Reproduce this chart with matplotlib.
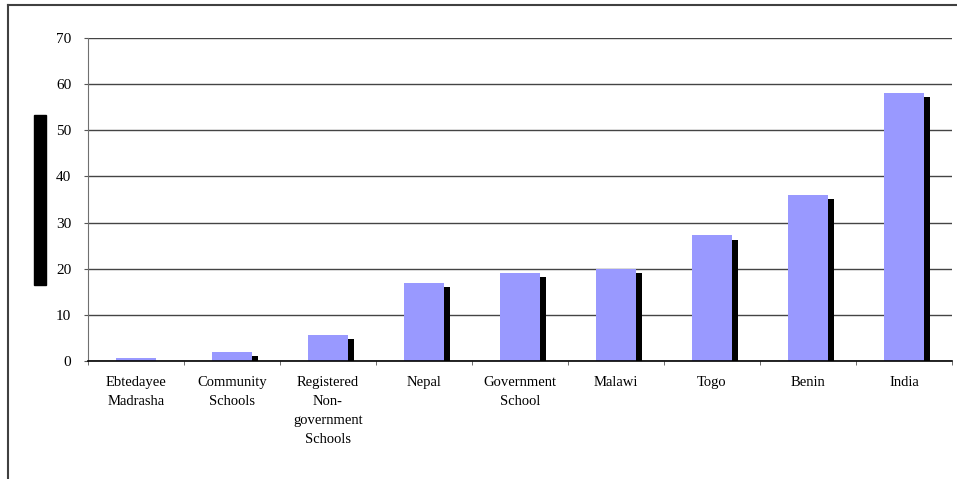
import numpy as np
import matplotlib
matplotlib.use("Agg")
import matplotlib.pyplot as plt
import matplotlib.patheffects as pe
from matplotlib.patches import Rectangle
from matplotlib.lines import Line2D

# Data
categories = ["Ebtedayee\nMadrasha", "Community\nSchools",
              "Registered\nNon-\ngovernment\nSchools", "Nepal",
              "Government\nSchool", "Malawi", "Togo", "Benin", "India"]
values = [0.7, 2.0, 5.6, 17.0, 19.1, 20.0, 27.2, 35.9, 58.0]
yticks = [0, 10, 20, 30, 40, 50, 60, 70]

plt.rcParams['font.family'] = ['Liberation Serif', 'DejaVu Serif']

fig = plt.figure(figsize=(9.57, 4.79), dpi=100)
ax = fig.add_axes([88 / 957, 1 - 361 / 479, 864 / 957, 323 / 479])

x = np.arange(len(categories))
# drop shadow: ~6px right, ~4px down (in points at 100 dpi)
shadow = [pe.SimplePatchShadow(offset=(4.3, -2.9), shadow_rgbFace='black', alpha=1.0),
          pe.Normal()]
ax.bar(x, values, width=0.41, color='#9999FF', zorder=3, path_effects=shadow)

ax.set_xlim(-0.5, len(categories) - 0.5)
ax.set_ylim(0, 70)
ax.set_yticks(yticks)
ax.set_yticklabels([str(t) for t in yticks], fontsize=11)
ax.yaxis.grid(True, color='#444444', linewidth=1.0, zorder=0)
ax.set_axisbelow(True)

# category labels centred, ticks at boundaries
ax.set_xticks(x)
ax.set_xticklabels(categories, fontsize=10.5, linespacing=1.6, va='top')
ax.tick_params(axis='x', length=0, pad=11)
ax.set_xticks(np.arange(len(categories) + 1) - 0.5, minor=True)
ax.tick_params(axis='x', which='minor', length=3, color='#555555', direction='out')
ax.tick_params(axis='y', length=3, color='#555555', pad=9)

for s in ['top', 'right']:
    ax.spines[s].set_visible(False)
ax.spines['left'].set_color('#707070')
ax.spines['bottom'].set_color('black')
ax.spines['bottom'].set_linewidth(1.2)
ax.spines['bottom'].set_zorder(4)

# black block where the y label sits
fig.patches.append(Rectangle((34 / 957, 1 - 285 / 479), 12 / 957, 170 / 479,
                             transform=fig.transFigure, color='black'))

# outer chart border (left and top edges visible)
fig.lines.append(Line2D([8 / 957, 8 / 957], [0, 1 - 5 / 479],
                        transform=fig.transFigure, color='#404040', linewidth=1.5))
fig.lines.append(Line2D([8 / 957, 1], [1 - 5 / 479, 1 - 5 / 479],
                        transform=fig.transFigure, color='#404040', linewidth=1.5))

fig.savefig("out.png", dpi=100)
